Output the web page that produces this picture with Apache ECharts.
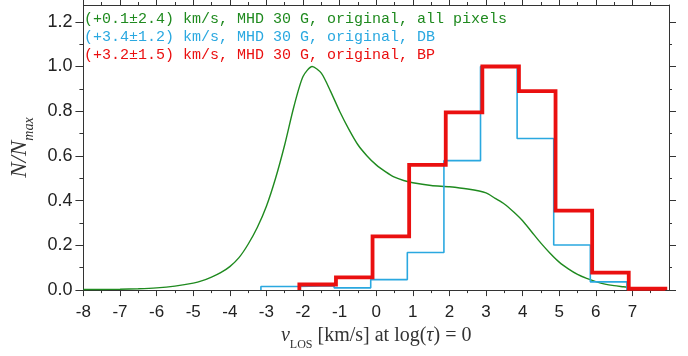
<!DOCTYPE html>
<html>
<head>
<meta charset="utf-8">
<script src="https://cdn.jsdelivr.net/npm/echarts@6/dist/echarts.min.js"></script>
<style>
  html, body { margin: 0; padding: 0; background: #ffffff; }
  #chart { width: 688px; height: 356px; }
</style>
</head>
<body>
<div id="chart"></div>
<script>
// Velocity distribution of all pixels (normalised to peak)
const greenX = [-8, -7.5, -7, -6.5, -6, -5.5, -5, -4.75, -4.5, -4.25, -4, -3.75, -3.5, -3.25, -3, -2.75, -2.5, -2.25, -2, -1.75, -1.5, -1.25, -1, -0.75, -0.5, -0.25, 0, 0.25, 0.5, 0.75, 1, 1.5, 2, 2.5, 3, 3.25, 3.5, 3.75, 4, 4.25, 4.5, 4.75, 5, 5.25, 5.5, 5.75, 6, 6.25, 6.5, 6.75, 6.9];
const greenY = [0.003, 0.003, 0.004, 0.006, 0.010, 0.018, 0.031, 0.042, 0.058, 0.078, 0.105, 0.145, 0.205, 0.280, 0.375, 0.500, 0.650, 0.820, 0.955, 1.000, 0.970, 0.890, 0.800, 0.720, 0.650, 0.600, 0.560, 0.530, 0.505, 0.490, 0.480, 0.468, 0.462, 0.452, 0.435, 0.410, 0.385, 0.350, 0.310, 0.260, 0.210, 0.165, 0.125, 0.095, 0.070, 0.052, 0.038, 0.027, 0.020, 0.015, 0.012];

// DB histogram (bin edges and normalised counts)
const blueEdges = [-3.15, -2.15, -1.15, -0.15, 0.85, 1.85, 2.85, 3.85, 4.85, 5.85, 6.85];
const blueValues = [0.016, 0.020, 0.010, 0.047, 0.168, 0.579, 1.000, 0.678, 0.202, 0.037];

// BP histogram (bin edges and normalised counts)
const redEdges = [-2.1, -1.1, -0.1, 0.9, 1.9, 2.9, 3.9, 4.9, 5.9, 6.9, 7.9];
const redValues = [0.025, 0.057, 0.240, 0.560, 0.795, 1.000, 0.890, 0.355, 0.078, 0.006];

// Legend texts
const greenName = '(+0.1±2.4) km/s, MHD 30 G, original, all pixels';
const blueName  = '(+3.4±1.2) km/s, MHD 30 G, original, DB';
const redName   = '(+3.2±1.5) km/s, MHD 30 G, original, BP';

// Tick positions
const xMajorTicks = [-8, -7, -6, -5, -4, -3, -2, -1, 0, 1, 2, 3, 4, 5, 6, 7];
const xMinorTicks = [-7.5, -6.5, -5.5, -4.5, -3.5, -2.5, -1.5, -0.5, 0.5, 1.5, 2.5, 3.5, 4.5, 5.5, 6.5, 7.5];
const yMajorTicks = [0, 0.2, 0.4, 0.6, 0.8, 1.0, 1.2];
const yMinorTicks = [0.1, 0.3, 0.5, 0.7, 0.9, 1.1];

const X_MIN = -8, X_MAX = 8, Y_MIN = 0, Y_MAX = 1.275;

const GREEN = '#1f8a1f', BLUE = '#2aa8e0', RED = '#ea1010';
const AXIS = '#333333';

function stepPoints(edges, values) {
  const pts = [[edges[0], 0]];
  values.forEach((v, i) => pts.push([edges[i], v]));
  pts.push([edges[edges.length - 1], 0]);
  return pts;
}

function tickAxis(pos, values, len, withLine, extra) {
  const isX = pos === 'bottom' || pos === 'top';
  return Object.assign({
    type: 'value',
    position: pos,
    min: isX ? X_MIN : Y_MIN,
    max: isX ? X_MAX : Y_MAX,
    splitLine: { show: false },
    axisLine: { show: withLine, onZero: false, lineStyle: { color: AXIS, width: 1 } },
    axisTick: { show: true, inside: false, length: len, customValues: values, lineStyle: { color: AXIS, width: 1 } },
    axisLabel: { show: false }
  }, extra || {});
}

const chart = echarts.init(document.getElementById('chart'), null, { renderer: 'canvas' });

chart.setOption({
  animation: false,
  backgroundColor: '#ffffff',
  grid: { left: 76, right: 19, top: 5, bottom: 61, containLabel: false },
  legend: {
    left: 74,
    top: 7,
    orient: 'vertical',
    icon: 'none',
    itemWidth: 0,
    itemHeight: 15,
    itemGap: 2.7,
    selectedMode: false,
    textStyle: { fontFamily: 'Liberation Mono', fontSize: 15 },
    data: [
      { name: greenName, textStyle: { color: GREEN } },
      { name: blueName, textStyle: { color: BLUE } },
      { name: redName, textStyle: { color: RED } }
    ]
  },
  xAxis: [
    tickAxis('bottom', xMajorTicks, 6, true, {
      axisLabel: {
        show: true, customValues: xMajorTicks, margin: 14,
        fontFamily: 'Liberation Sans', fontSize: 17, color: '#222222'
      },
      name: '{v|v}{sub|LOS}{t| [km/s] at log(}{v|τ}{t|) = 0}',
      nameLocation: 'middle',
      nameGap: 28,
      nameTextStyle: {
        rich: {
          v: { fontFamily: 'Liberation Serif', fontStyle: 'italic', fontSize: 20, color: '#333333', lineHeight: 22 },
          sub: { fontFamily: 'Liberation Serif', fontSize: 12, color: '#333333', lineHeight: 22, verticalAlign: 'bottom', padding: [0, 0, -4, 0] },
          t: { fontFamily: 'Liberation Serif', fontSize: 20, color: '#333333', lineHeight: 22 }
        }
      }
    }),
    tickAxis('bottom', xMinorTicks, 3, false),
    tickAxis('top', xMajorTicks, 5, true),
    tickAxis('top', xMinorTicks, 3, false)
  ],
  yAxis: [
    tickAxis('left', yMajorTicks, 8, true, {
      axisLabel: {
        show: true, customValues: yMajorTicks, margin: 11,
        fontFamily: 'Liberation Sans', fontSize: 18, color: '#222222',
        formatter: v => v.toFixed(1)
      },
      name: '{i|N/N}{s|max}',
      nameLocation: 'middle',
      nameGap: 42,
      nameTextStyle: {
        rich: {
          i: { fontFamily: 'Liberation Serif', fontStyle: 'italic', fontSize: 23, color: '#333333', lineHeight: 28 },
          s: { fontFamily: 'Liberation Serif', fontStyle: 'italic', fontSize: 14, color: '#333333', lineHeight: 28, verticalAlign: 'bottom', padding: [0, 0, -3, 0] }
        }
      }
    }),
    tickAxis('left', yMinorTicks, 4, false),
    tickAxis('right', yMajorTicks, 7, true),
    tickAxis('right', yMinorTicks, 3, false)
  ],
  series: [
    {
      name: greenName,
      type: 'line',
      xAxisIndex: 0, yAxisIndex: 0,
      data: greenX.map((x, i) => [x, greenY[i]]),
      showSymbol: false,
      smooth: 0.25,
      lineStyle: { color: GREEN, width: 1.4 },
      itemStyle: { color: GREEN },
      z: 2
    },
    {
      name: blueName,
      type: 'line',
      step: 'end',
      xAxisIndex: 0, yAxisIndex: 0,
      data: stepPoints(blueEdges, blueValues),
      showSymbol: false,
      lineStyle: { color: BLUE, width: 1.6 },
      itemStyle: { color: BLUE },
      z: 3
    },
    {
      name: redName,
      type: 'line',
      step: 'end',
      xAxisIndex: 0, yAxisIndex: 0,
      data: stepPoints(redEdges, redValues),
      showSymbol: false,
      lineStyle: { color: RED, width: 3.8, join: 'miter' },
      itemStyle: { color: RED },
      z: 4
    }
  ]
});
</script>
</body>
</html>
